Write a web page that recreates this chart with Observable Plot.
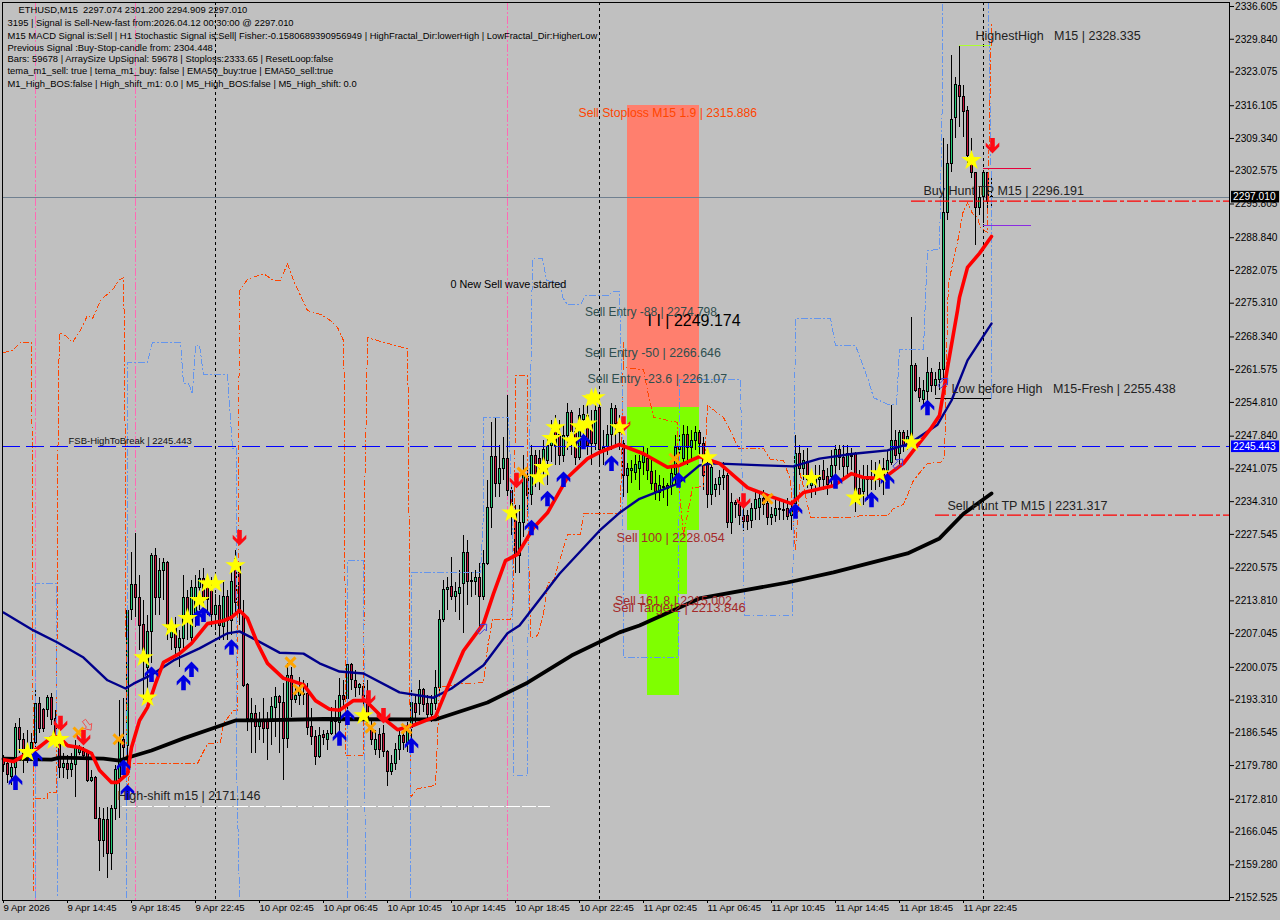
<!DOCTYPE html>
<html><head><meta charset="utf-8">
<script src="https://cdn.jsdelivr.net/npm/d3@7"></script>
<script src="https://cdn.jsdelivr.net/npm/@observablehq/plot@0.6"></script>
<style>html,body{margin:0;padding:0;background:#c0c0c0;overflow:hidden}svg{display:block}</style>
</head><body><div id="chart"></div>
<script>
const ohlc = [
[2181.0,2181.6,2178.2,2179.6],[2179.8,2181.2,2175.9,2177.7],[2177.3,2180.2,2175.5,2179.0],[2179.0,2188.3,2177.1,2187.4],[2187.4,2189.3,2182.1,2184.8],[2184.8,2186.2,2177.9,2181.6],[2181.0,2186.8,2180.0,2183.3],[2182.3,2186.2,2180.6,2184.3],
[2184.3,2195.1,2183.3,2192.4],[2192.4,2193.6,2186.2,2187.2],[2191.0,2191.4,2186.4,2187.2],[2191.0,2194.0,2189.5,2193.6],[2193.6,2194.4,2187.9,2188.9],[2189.3,2191.0,2184.8,2185.4],[2186.2,2187.4,2176.9,2179.0],[2179.0,2182.1,2176.9,2179.8],
[2179.8,2181.6,2176.7,2178.6],[2178.6,2182.1,2177.1,2179.8],[2179.6,2184.8,2173.0,2183.3],[2182.1,2183.7,2181.6,2183.1],[2182.3,2183.3,2180.6,2181.6],[2182.3,2182.7,2176.1,2176.3],[2176.3,2178.6,2176.1,2177.1],[2177.1,2177.3,2168.4,2168.6],
[2168.6,2170.9,2157.7,2163.9],[2163.9,2170.7,2160.6,2168.4],[2168.4,2170.9,2156.2,2161.4],[2161.4,2171.3,2157.9,2170.7],[2170.7,2179.6,2168.2,2178.6],[2176.9,2193.0,2168.6,2184.8],[2184.8,2193.4,2179.2,2183.3],[2183.7,2212.2,2179.6,2211.6],
[2211.8,2223.6,2209.5,2216.8],[2216.8,2227.5,2210.2,2214.1],[2214.1,2218.8,2203.3,2208.5],[2208.7,2213.7,2193.0,2203.3],[2199.8,2210.6,2195.1,2207.1],[2207.1,2223.4,2200.7,2222.8],[2222.8,2224.4,2210.6,2214.1],[2214.1,2222.4,2210.6,2219.7],
[2219.7,2222.4,2213.7,2221.5],[2221.5,2221.7,2205.4,2208.1],[2206.0,2209.5,2203.3,2208.1],[2208.1,2210.2,2201.9,2203.9],[2203.9,2207.5,2199.8,2205.8],[2205.8,2218.8,2203.3,2214.1],[2214.1,2215.7,2205.4,2209.5],[2206.0,2217.8,2204.4,2216.2],
[2210.2,2218.8,2208.1,2216.2],[2216.2,2219.9,2211.6,2218.2],[2218.2,2220.3,2211.2,2213.7],[2217.4,2218.8,2210.6,2213.7],[2216.2,2218.4,2208.1,2210.6],[2210.6,2214.9,2207.5,2212.6],[2212.6,2214.7,2205.4,2208.5],[2208.3,2217.4,2205.4,2214.5],
[2214.5,2215.7,2205.4,2209.5],[2209.5,2219.9,2206.4,2217.6],[2222.3,2224.0,2211.2,2213.1],[2220.5,2221.3,2208.5,2211.2],[2210.6,2213.7,2195.7,2196.1],[2196.3,2196.5,2186.6,2189.3],[2189.3,2193.4,2182.1,2190.3],[2190.3,2192.0,2182.1,2187.6],
[2187.6,2190.5,2184.8,2188.9],[2188.9,2193.4,2184.1,2187.2],[2188.9,2190.5,2180.6,2187.2],[2188.5,2193.6,2183.7,2191.6],[2191.4,2195.7,2185.4,2193.8],[2193.8,2194.0,2182.1,2192.6],[2192.6,2196.5,2176.5,2185.0],[2185.0,2200.7,2183.1,2198.0],
[2198.0,2199.8,2189.5,2193.2],[2193.2,2196.1,2192.4,2194.0],[2194.0,2197.8,2192.0,2195.1],[2194.2,2197.2,2192.0,2194.4],[2194.4,2196.5,2185.8,2187.4],[2187.6,2191.4,2183.7,2185.4],[2185.4,2186.8,2179.6,2181.4],[2181.4,2187.4,2181.0,2185.6],
[2185.8,2186.8,2183.7,2185.2],[2184.8,2186.8,2182.7,2186.2],[2186.2,2191.6,2185.8,2188.5],[2188.5,2193.0,2185.2,2188.9],[2188.3,2197.6,2185.8,2194.0],[2194.0,2197.2,2191.4,2193.2],[2193.4,2201.3,2188.9,2200.3],[2200.3,2200.7,2195.1,2197.2],
[2197.0,2199.2,2193.6,2195.7],[2195.7,2196.5,2194.0,2196.3],[2195.9,2196.5,2189.9,2193.6],[2194.0,2197.2,2187.9,2188.3],[2186.8,2188.9,2183.7,2184.9],[2182.7,2186.8,2181.6,2184.9],[2185.8,2187.2,2181.0,2182.7],[2186.0,2187.9,2181.2,2182.3],
[2182.3,2182.7,2175.2,2178.2],[2178.2,2181.6,2177.5,2180.0],[2179.8,2184.1,2178.6,2182.7],[2182.7,2187.2,2180.6,2185.6],[2185.6,2187.2,2182.7,2184.3],[2184.3,2188.5,2182.3,2187.4],[2187.4,2196.5,2184.3,2192.6],[2192.4,2194.0,2187.9,2190.5],
[2192.2,2197.2,2189.9,2195.1],[2195.1,2195.5,2190.5,2192.0],[2192.4,2194.0,2188.9,2190.1],[2190.1,2194.0,2188.5,2192.4],[2192.4,2199.2,2191.0,2195.7],[2195.7,2211.6,2194.7,2209.7],[2209.7,2217.8,2209.1,2215.9],[2215.9,2218.4,2211.6,2216.3],
[2216.5,2222.6,2213.7,2214.3],[2214.3,2217.4,2211.2,2215.5],[2215.1,2219.9,2209.5,2216.3],[2217.0,2227.1,2206.9,2223.4],[2223.4,2226.1,2212.6,2217.4],[2217.5,2219.5,2214.3,2217.7],[2217.4,2219.9,2214.7,2218.4],[2218.4,2221.3,2208.1,2214.3],
[2214.3,2224.0,2213.7,2221.3],[2221.3,2238.5,2220.9,2232.7],[2232.7,2250.5,2228.5,2243.4],[2243.4,2251.5,2234.9,2237.8],[2237.8,2245.7,2234.9,2240.9],[2240.9,2247.3,2238.5,2243.0],[2243.0,2256.0,2235.2,2236.4],[2236.4,2238.5,2227.1,2231.8],
[2231.6,2233.3,2219.3,2222.8],[2222.8,2233.3,2219.3,2229.6],[2229.6,2243.6,2226.7,2239.5],[2239.1,2240.5,2232.3,2235.2],[2235.4,2245.7,2233.3,2243.6],[2243.6,2244.7,2237.0,2239.1],[2243.0,2244.7,2236.4,2239.1],[2242.6,2246.7,2239.5,2244.7],
[2242.6,2247.8,2237.4,2245.7],[2245.7,2250.9,2242.2,2247.8],[2248.8,2251.9,2241.6,2245.7],[2247.8,2250.9,2241.6,2243.6],[2243.6,2249.8,2242.2,2247.6],[2247.6,2254.4,2244.7,2252.5],[2252.5,2252.9,2243.6,2248.4],[2248.4,2249.8,2241.6,2243.2],
[2243.2,2253.3,2242.6,2251.9],[2250.9,2253.9,2245.7,2252.1],[2251.9,2253.9,2243.6,2245.7],[2250.5,2252.9,2241.6,2246.1],[2246.1,2255.6,2244.7,2252.9],[2253.5,2253.9,2241.6,2244.7],[2244.3,2248.8,2241.6,2245.1],[2245.3,2249.8,2243.6,2247.8],
[2247.8,2254.4,2244.7,2253.3],[2253.3,2253.9,2245.7,2250.2],[2248.2,2251.9,2244.7,2249.8],[2246.1,2246.7,2234.9,2239.5],[2239.5,2241.9,2235.8,2240.9],[2240.5,2242.6,2237.8,2240.9],[2240.1,2243.6,2238.5,2241.6],[2240.9,2243.6,2236.4,2242.2],
[2242.0,2245.3,2239.5,2243.6],[2243.0,2245.1,2238.5,2240.5],[2240.3,2242.6,2236.4,2237.8],[2237.8,2240.5,2234.3,2236.0],[2235.8,2239.5,2234.1,2237.4],[2237.0,2238.9,2234.7,2237.2],[2237.4,2237.8,2233.1,2236.8],[2237.4,2241.6,2235.4,2239.9],
[2239.7,2247.8,2237.4,2245.1],[2244.7,2248.2,2242.6,2245.3],[2243.0,2249.8,2241.6,2247.8],[2247.8,2249.6,2241.6,2245.1],[2245.1,2248.8,2242.2,2246.7],[2246.7,2249.6,2244.7,2248.2],[2248.2,2248.8,2243.6,2246.1],[2246.1,2247.4,2236.4,2239.5],
[2241.9,2242.6,2232.7,2235.4],[2235.4,2242.6,2233.3,2241.1],[2236.6,2238.9,2234.9,2237.6],[2237.6,2240.5,2235.4,2238.9],[2238.9,2242.2,2236.4,2239.5],[2239.5,2239.9,2228.5,2229.6],[2229.6,2235.8,2227.3,2233.9],[2233.9,2234.3,2230.6,2233.5],
[2233.5,2234.9,2229.2,2231.2],[2231.2,2233.3,2227.9,2230.0],[2231.2,2232.3,2228.1,2230.0],[2230.2,2233.7,2228.5,2232.5],[2232.5,2236.4,2230.2,2234.5],[2232.7,2236.0,2230.2,2234.7],[2234.7,2236.4,2231.2,2233.5],[2233.7,2234.9,2229.2,2230.8],
[2230.8,2232.9,2229.2,2231.4],[2231.2,2234.9,2229.8,2232.5],[2232.3,2234.3,2230.2,2232.5],[2232.1,2234.3,2230.2,2232.3],[2232.5,2234.7,2230.2,2231.0],[2231.2,2234.3,2228.1,2232.5],[2233.7,2247.8,2233.3,2244.0],[2244.0,2245.7,2239.5,2240.9],
[2240.9,2244.7,2238.5,2242.6],[2242.2,2245.1,2236.8,2238.5],[2237.4,2240.5,2234.7,2238.5],[2237.6,2241.6,2235.4,2238.9],[2238.5,2241.6,2236.4,2238.9],[2240.5,2242.6,2236.4,2238.5],[2239.1,2240.9,2235.4,2237.6],[2239.1,2244.7,2237.4,2241.4],
[2241.4,2245.7,2238.9,2244.7],[2244.7,2245.7,2240.5,2243.2],[2243.2,2245.7,2238.9,2241.2],[2241.2,2245.7,2239.5,2244.0],[2243.4,2245.1,2240.5,2243.6],[2244.0,2244.2,2231.8,2235.4],[2236.8,2240.5,2233.3,2235.4],[2236.0,2241.6,2233.3,2238.7],
[2238.5,2241.6,2234.3,2238.9],[2238.5,2242.6,2236.4,2238.9],[2238.9,2242.2,2236.4,2240.1],[2239.9,2242.6,2237.0,2240.1],[2240.9,2243.0,2235.4,2239.1],[2240.5,2244.7,2237.4,2242.4],[2242.0,2254.0,2241.6,2246.7],[2246.7,2248.8,2242.6,2243.6],
[2244.0,2248.8,2241.6,2248.2],[2248.2,2248.8,2244.3,2245.3],[2245.7,2248.8,2244.7,2247.4],[2246.7,2272.1,2245.7,2262.2],[2262.2,2262.6,2256.6,2257.0],[2257.3,2259.8,2254.6,2255.6],[2255.2,2259.1,2254.0,2256.9],[2256.7,2263.9,2254.0,2260.6],
[2260.6,2261.6,2256.6,2257.9],[2257.9,2260.8,2256.0,2259.3],[2259.3,2262.8,2257.0,2261.4],[2261.4,2309.1,2259.1,2293.8],[2293.8,2307.9,2292.2,2303.8],[2303.8,2326.3,2302.1,2313.0],[2313.3,2321.7,2309.1,2320.1],[2319.9,2328.3,2311.4,2317.6],
[2317.8,2320.1,2309.3,2314.7],[2314.9,2315.7,2303.9,2305.6],[2305.6,2309.1,2300.9,2301.9],[2301.9,2301.9,2287.0,2294.7],[2294.7,2299.0,2293.2,2296.9],[2297.1,2301.9,2291.6,2301.9],[2301.9,2301.9,2294.2,2296.1],[2297.074,2301.2,2294.909,2297.01]
];

const blackBars = [0,12,14,25,29,31,37,45,52,58,64,80,100,108,121,131,142,154,159,174,196,207.5,226,234,240,247];
const blackPrices = [2181.0,2180.8,2181.2,2181.0,2180.6,2181.2,2182.7,2185.2,2187.2,2188.9,2188.9,2189.2,2189.1,2189.1,2192.6,2196.7,2202.3,2207.1,2208.5,2214.1,2217.4,2219.5,2223.4,2226.5,2231.6,2235.8];
const navyBars = [0,7.5,13.5,20,26,30.5,32.5,36.75,42.5,49,56,59,62.5,69,75,79,84,90,99,107.5,112,120,126,129,139,149,154,159,162.5,168.5,174,177.5,190,197.5,204,212.5,221,226.5,233.5,237,241,247];
const navyPrices = [2211.2,2207.5,2205.0,2201.9,2197.2,2195.5,2196.5,2198.2,2201.3,2203.8,2206.9,2207.3,2205.8,2202.9,2202.7,2200.7,2199.0,2198.6,2194.7,2193.6,2195.5,2200.3,2206.9,2208.5,2219.2,2228.1,2231.8,2234.7,2235.8,2237.8,2241.6,2242.0,2241.6,2241.4,2243.0,2244.0,2244.7,2246.1,2250.0,2255.0,2263.3,2270.9];
const redBars = [0,2.5,6,8.5,12,14,16,19,22,24,27,28.5,31,32,34,36,38,40,44,47,51,55,57,59,61,63.5,66,70,75,78,81.5,84,87.5,90.5,95,98.5,102.5,108,110.5,115,120,122.5,125.5,128.5,132.5,136,141,146,149,154,160,166,169,174,179,186,191,197,200,207.5,212,215,220,225,227.5,232,234,236,238.5,239,241,244,247];
const redPrices = [2180.8,2180.4,2182.1,2183.1,2185.4,2185.4,2183.7,2183.3,2182.1,2178.6,2176.1,2176.1,2177.9,2183.3,2188.9,2191.6,2196.5,2200.9,2202.7,2204.8,2208.9,2209.5,2210.2,2211.6,2210.0,2204.8,2200.7,2197.6,2196.3,2193.0,2191.2,2191.0,2193.0,2193.0,2189.3,2187.0,2187.9,2189.7,2194.7,2203.3,2208.9,2215.1,2221.9,2223.2,2228.7,2231.8,2239.1,2243.0,2244.3,2245.9,2244.0,2241.2,2241.6,2243.4,2242.0,2237.0,2235.4,2233.7,2236.0,2237.4,2239.9,2239.1,2238.9,2242.0,2244.7,2249.4,2251.9,2261.8,2273.6,2276.3,2282.5,2285.4,2288.9];

const orangeBars = [0,2.25,4.25,7,7.25,7.5,7.6,8,11,11,13.25,13.5,13.75,14,15.5,17.25,19.25,21,22.25,24.25,27.5,28.75,30,30.25,30.5,30.75,31,31.75,48.5,51,54.25,55,57.5,58.5,58.75,59,61,65,67.5,69.25,71,72.5,74.25,76,79.25,81.75,83.5,85,85.25,85.5,90,90.25,90.75,91,96,101,101.25,101.75,103.5,108,108.75,109,114.25,120,121,122.25,126.75,127.5,128,128,131,131,131.75,133.5,135,136,137.5,140,141,144.25,145,154.25,154.75,155,155,160,161,162.5,168.5,168.75,170,172.25,175,176,180,182.5,183.75,190,191.75,195,196.75,198,199.25,201.75,211.75,214.25,221,222.5,225,227.5,231,234.25,235.25,235.5,236,236.25,238,238.75,239.75,241,242.25,243.5,244.25,246,246.25,247];
const orangePrices = [2264.9,2265.3,2267.0,2267.0,2234.3,2153.8,null,2172.8,2172.8,2174.0,2174.0,2232.9,2257.5,2269.0,2268.4,2267.0,2269.5,2272.6,2271.9,2275.7,2278.1,2279.8,2280.4,2267.4,2234.3,2177.9,2174.4,2180.0,2180.0,2184.1,2184.3,2188.3,2191.0,2191.0,2240.5,2277.7,2280.0,2281.2,2279.8,2279.8,2283.3,2279.8,2276.7,2273.6,2272.8,2271.5,2270.1,2267.4,2255.0,2181.6,2181.6,2234.3,2255.0,2268.0,2266.8,2265.7,2250.9,2173.0,2174.8,2175.5,2190.3,2195.7,2196.5,2196.7,2204.0,2209.8,2209.8,2213.7,2255.0,2260.2,2260.2,2234.3,2206.0,2206.4,2211.0,2217.2,2217.8,2224.6,2227.3,2227.3,2231.6,2231.6,2255.0,2267.0,2261.8,2261.4,2257.1,2251.5,2250.5,2238.5,2227.1,2237.0,2237.2,2254.0,2251.5,2247.4,2245.1,2245.1,2242.8,2242.6,2238.5,2224.0,2239.9,2230.8,2230.8,2231.2,2231.2,2232.7,2233.5,2238.5,2242.0,2242.2,2243.2,2251.5,2273.6,2279.2,2286.0,2288.7,2293.6,2295.9,2293.6,2292.8,2290.7,2289.7,2301.1,2333.1];
const blueBars = [8,8,13.25,13.5,20,30.75,31,31,36,37.25,44.25,45,46.25,47.25,48,49,50,56,56.5,57.25,58.25,58.25,59,70,86,86,90,90.5,95,101.75,102,119.25,120,120,126.25,127.25,127.5,131,131.25,131.75,132,132.25,134.75,135.75,139.25,139.75,141,144.25,145.5,151.25,152.25,154,154.25,154.75,155,168.75,169,184.25,185.25,197.25,198,206.75,208,213,216.25,217.5,221,223.25,224,230,230.5,231,234,234.75,234.75,240,246.25,247,247];
const bluePrices = [2152.3,2217.2,2217.2,2152.3,null,2152.3,2226.1,2262.9,2262.9,2267.0,2267.0,2258.5,2258.5,2256.4,2266.4,2266.4,2260.4,2260.4,2254.0,2245.1,2245.1,2180.6,2152.3,null,2152.3,2221.9,2221.9,2152.3,null,2152.3,2219.5,2219.5,2231.8,2251.5,2251.5,2231.6,2177.5,2177.5,2234.3,2255.0,2270.9,2284.3,2284.3,2279.8,2279.2,2276.3,2274.8,2274.8,2276.7,2276.7,2277.5,2277.5,2268.0,2255.0,2201.9,2201.9,2259.3,2259.3,2210.6,2210.6,2271.9,2271.9,2266.4,2266.4,2259.1,2255.6,2254.2,2254.2,2265.5,2265.5,2276.3,2286.0,2286.2,2319.7,2337.2,null,2337.2,2296.3,2255.0];

const starBars = [6,12.5,14,36,35,42,46,49,51,53,58,90,127,133.75,135,137,138,142,144,146,147,148,154,176,202,213,219,227,242];
const starPrices = [2182.3,2184.8,2185.0,2193.6,2201.9,2208.1,2210.0,2213.7,2217.2,2217.2,2220.9,2189.9,2231.8,2239.1,2241.2,2247.2,2249.4,2246.7,2249.6,2250.2,2255.4,2255.6,2249.4,2243.2,2238.9,2234.9,2239.9,2246.3,2304.6];
const upBars = [3,8,30,31,37,45,47,48.5,50,57,84,86,102,132,136,140,145,152,168.75,198,208,217,221,231];
const upPrices = [2176.1,2181.0,2179.2,2174.0,2198.4,2196.7,2199.4,2210.0,2210.8,2204.0,2185.2,2189.5,2183.7,2228.7,2234.7,2238.7,2246.5,2242.0,2238.5,2232.1,2238.3,2234.5,2238.3,2253.5];
const downBars = [14.25,20,59,91.25,95,128.25,155,185,247.25];
const downPrices = [2188.3,2185.4,2226.7,2193.6,2189.9,2238.5,2250.2,2234.3,2307.7];
const crossBars = [18.75,28.75,71.75,73.75,91.75,100.75,129.75,167.75,191];
const crossPrices = [2186.4,2185.0,2200.9,2195.3,2187.4,2187.2,2240.1,2243.0,2234.7];
const hollowBars = [119.75,223.75,235];
const hollowPrices = [2207.9,2242.0,2258.7];
const hollowRedBars = [21];
const hollowRedPrices = [2187.9];

const zoneX1 = [156,156,159,161];
const zoneX2 = [174,174,171,169];
const zoneTop = [2315.886,2253.5,2228.054,2215.002];
const zoneBottom = [2253.5,2228.054,2215.002,2194.0];
const zoneColors = ["#ff7f6e","#7fff00","#7fff00","#7fff00"];

const separators = [53,149,245];
const pinkBars = [8,33,126];

const priceTicks = [2336.605,2329.84,2323.075,2316.105,2309.34,2302.575,2295.805,2288.84,2282.075,2275.31,2268.34,2261.575,2254.81,2247.84,2241.075,2234.31,2227.545,2220.575,2213.81,2207.045,2200.075,2193.31,2186.545,2179.78,2172.81,2166.045,2159.28,2152.525];
const timeBars = [0,16,32,48,64,80,96,112,128,144,160,176,192,208,224,240];
const timeLabels = ["9 Apr 2026","9 Apr 14:45","9 Apr 18:45","9 Apr 22:45","10 Apr 02:45","10 Apr 06:45","10 Apr 10:45","10 Apr 14:45","10 Apr 18:45","10 Apr 22:45","11 Apr 02:45","11 Apr 06:45","11 Apr 10:45","11 Apr 14:45","11 Apr 18:45","11 Apr 22:45"];

const infoLines = ["ETHUSD,M15  2297.074 2301.200 2294.909 2297.010",
"3195 | Signal is Sell-New-fast from:2026.04.12 00:30:00 @ 2297.010",
"M15 MACD Signal is:Sell | H1 Stochastic Signal is:Sell| Fisher:-0.1580689390956949 | HighFractal_Dir:lowerHigh | LowFractal_Dir:HigherLow",
"Previous Signal :Buy-Stop-candle from: 2304.448",
"Bars: 59678 | ArraySize UpSignal: 59678 | Stoploss:2333.65 | ResetLoop:false",
"tema_m1_sell: true | tema_m1_buy: false | EMA50_buy:true | EMA50_sell:true",
"M1_High_BOS:false | High_shift_m1: 0.0 | M5_High_BOS:false | M5_High_shift: 0.0"].map(s=>s.replace(/ {2}/g,"\u00a0\u00a0"));
const infoBars = [3.75,1,1,1,1,1,1];
const infoPrices = [2335.6,2332.9,2330.4,2327.9,2325.5,2323.0,2320.3];

const labelTexts = ["0 New Sell wave started","I I | 2249.174","Sell Stoploss M15 1.9 | 2315.886","Sell Entry -88 | 2274.798","Sell Entry -50 | 2266.646","Sell Entry -23.6 | 2261.07","Sell 100 | 2228.054","Sell 161.8 | 2215.002","Sell Target2 | 2213.846","High-shift m15 | 2171.146","FSB-HighToBreak | 2245.443","HighestHigh\u00a0\u00a0\u00a0M15 | 2328.335","Buy Hunt TP M15 | 2296.191","Low before High\u00a0\u00a0\u00a0M15-Fresh | 2255.438","Sell Hunt TP M15 | 2231.317"];
const labelBars = [111.75,161,143.75,145.4,145.3,146,153.25,152.9,152.25,28.5,16.25,243,230,237,236];
const labelPrices = [2279.0,2271.5,2314.3,2273.2,2264.9,2259.5,2226.5,2213.5,2212.2,2173.2,2246.7,2330.4,2298.2,2257.3,2233.3];
const labelColors = ["#000","#000","#ff4500","#2f4f4f","#2f4f4f","#2f4f4f","#a52a2a","#a52a2a","#a52a2a","#222","#111","#222","#222","#222","#222"];
const labelSizes = [10.8,16,12.2,12,12.4,12.4,12.6,12.4,13,12.5,9.5,12.5,12.5,12.5,12.5];

const solidPrices = [2255.438,2328.335,2302.9,2291.2];
const solidFrom = [233,239,245,245];
const solidTo = [247,247,257,257];
const solidColors = ["#000000","#adff2f","#e6003c","#8a2be2"];
const huntPrices = [2296.191,2231.317];
const huntFrom = [227,233];
const shiftPrice = [2171.146];

const badgePrices = [2297.01,2245.443];
const badgeFills = ["#000","#0000ff"];

const bars = ohlc.map((_,i)=>i);
const idx = a => a.map((_,i)=>i);
const arrowPts = [[0,-8],[6.8,-1.2],[6.8,2.8],[2.3,-1.7],[2.3,7.5],[-2.3,7.5],[-2.3,-1.7],[-6.8,2.8],[-6.8,-1.2]];
const poly = (pts,sx=1,sy=1,rot=0) => ({draw(c,size){
  pts.forEach(([a,b],i)=>{const x=a*sx,y=b*sy,cs=Math.cos(rot),sn=Math.sin(rot),X=x*cs-y*sn,Y=x*sn+y*cs; i?c.lineTo(X,Y):c.moveTo(X,Y);});
  c.closePath();
}});
const upArrow = poly(arrowPts);
const downArrow = poly(arrowPts,1,-1);
const hollowPts = [[0,-6],[4.5,-1],[2,-1],[2,6],[-2,6],[-2,-1],[-4.5,-1]];
const hollowUp = poly(hollowPts,1,1,Math.PI/4);
const hollowDown = poly(hollowPts,1,1,Math.PI*0.8);

const markDots = (b,p,o) => Plot.dot(idx(b),{x:i=>b[i],y:i=>p[i],...o});
const pline = (b,p,o) => Plot.line(idx(b),{x:i=>b[i],y:i=>p[i],...o});
const crisp = {shapeRendering:"crispEdges"};

const chart = Plot.plot({
  width:1280,height:920,
  marginTop:2,marginBottom:20,marginLeft:2,marginRight:51,
  x:{type:"linear",domain:[-0.25,306.5],range:[2,1229]},
  y:{type:"linear",domain:[2151.7,2337.227],range:[900,2]},
  style:{background:"#c0c0c0",fontFamily:"'Liberation Sans',Arial,sans-serif",color:"#000",overflow:"visible"},
  marks:[
    Plot.rect(idx(zoneX1),{x1:i=>zoneX1[i],x2:i=>zoneX2[i],y1:i=>zoneBottom[i],y2:i=>zoneTop[i],fill:i=>zoneColors[i],...crisp}),
    Plot.ruleX(pinkBars,{stroke:"#ff69b4",strokeWidth:1,strokeDasharray:"8,2,2,2",...crisp}),
    Plot.ruleX(separators,{stroke:"#000",strokeWidth:1,strokeDasharray:"3,3",...crisp}),
    Plot.ruleY([badgePrices[0]],{stroke:"#708090",strokeWidth:1,...crisp}),
    Plot.ruleX(bars,{x:i=>i,y1:i=>ohlc[i][2],y2:i=>ohlc[i][1],stroke:"#000",strokeWidth:1,...crisp}),
    Plot.rect(bars,{x1:i=>i-0.25,x2:i=>i+0.25,
      y1:i=>Math.min(ohlc[i][0],ohlc[i][3]),y2:i=>Math.max(ohlc[i][0],ohlc[i][3]),
      fill:i=>ohlc[i][3]>=ohlc[i][0]?"#22cc77":"#c8143c",stroke:"#000",strokeWidth:1,...crisp}),
    pline(orangeBars,orangePrices,{stroke:"#ff4500",strokeWidth:1,strokeDasharray:"5,3,1,3",...crisp}),
    pline(blueBars,bluePrices,{stroke:"#6495ed",strokeWidth:1,strokeDasharray:"6,3,1,3",...crisp}),
    Plot.ruleY([badgePrices[1]],{stroke:"#0000ff",strokeWidth:1.2,strokeDasharray:"18,6",...crisp}),
    Plot.ruleY(idx(solidPrices),{y:i=>solidPrices[i],x1:i=>solidFrom[i],x2:i=>solidTo[i],stroke:i=>solidColors[i],strokeWidth:1,...crisp}),
    Plot.ruleY(idx(huntPrices),{y:i=>huntPrices[i],x1:i=>huntFrom[i],x2:()=>306.5,stroke:"#ff0000",strokeDasharray:"14,3,4,3",strokeWidth:1.4}),
    Plot.ruleY(shiftPrice,{x1:()=>29.75,x2:()=>136.75,stroke:"#ffffff",strokeDasharray:"14,2",strokeWidth:1,...crisp}),
    pline(blackBars,blackPrices,{stroke:"#000",strokeWidth:3.8}),
    pline(navyBars,navyPrices,{stroke:"#00008b",strokeWidth:2.4}),
    pline(redBars,redPrices,{stroke:"#ff0000",strokeWidth:3.6}),
    markDots(hollowBars,hollowPrices,{r:5,symbol:hollowUp,stroke:"#3f3fe0",strokeWidth:1,fill:"none"}),
    markDots(hollowRedBars,hollowRedPrices,{r:5,symbol:hollowDown,stroke:"#f05050",strokeWidth:1,fill:"none"}),
    markDots(crossBars,crossPrices,{r:4.6,symbol:"times",stroke:"#ffa500",strokeWidth:3,fill:"none"}),
    markDots(upBars,upPrices,{r:7,symbol:upArrow,fill:"#0000e0",stroke:"none"}),
    markDots(downBars,downPrices,{r:7,symbol:downArrow,fill:"#ff0a14",stroke:"none"}),
    markDots(starBars,starPrices,{r:6.4,symbol:"star",fill:"#ffff00",stroke:"none"}),
    Plot.text(infoLines,{x:(d,i)=>infoBars[i],y:(d,i)=>infoPrices[i],text:d=>d,textAnchor:"start",fontSize:9.4,fill:"#000"}),
    Plot.text(labelTexts,{x:(d,i)=>labelBars[i],y:(d,i)=>labelPrices[i],text:d=>d,textAnchor:"start",fill:(d,i)=>labelColors[i],fontSize:(d,i)=>labelSizes[i]}),
    Plot.axisY({anchor:"right",ticks:priceTicks,tickFormat:d=>d.toFixed(3),tickSize:4,tickPadding:1.5,fontSize:10.2,dy:1,stroke:"#000",fill:"#000",label:null,textAnchor:"start"}),
    Plot.axisX({anchor:"bottom",ticks:timeBars,tickFormat:d=>timeLabels[timeBars.indexOf(d)],tickSize:3,tickPadding:1,fontSize:9.6,textAnchor:"start",stroke:"#000",fill:"#000",label:null}),
    Plot.rect(idx(badgePrices),{x1:()=>307,x2:()=>319,y1:i=>badgePrices[i]-1.2,y2:i=>badgePrices[i]+1.2,fill:i=>badgeFills[i]}),
    Plot.text(badgePrices,{x:()=>307.4,y:d=>d,text:d=>d.toFixed(3),fill:"#fff",textAnchor:"start",fontSize:10.2}),
    Plot.frame({stroke:"#000",strokeWidth:1,...crisp})
  ]
});
document.getElementById("chart").append(chart);
</script></body></html>
